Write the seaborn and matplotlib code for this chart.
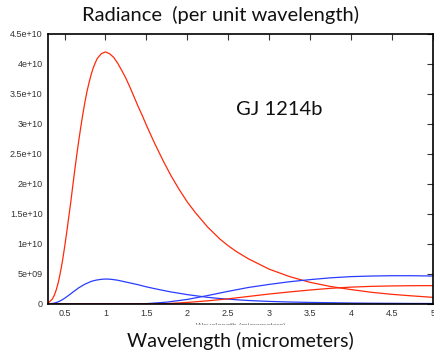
import matplotlib
matplotlib.use('Agg')
import matplotlib.pyplot as plt
import numpy as np
import pandas as pd
import seaborn as sns
from matplotlib.patches import Rectangle


# wavelength grid (micrometers) and radiance (units of 1e9)
star_wl = [0.3, 0.35, 0.375, 0.4, 0.425, 0.45, 0.475, 0.5, 0.525, 0.55,
           0.575, 0.6, 0.625, 0.65, 0.675, 0.7, 0.725, 0.75, 0.775, 0.8,
           0.825, 0.85, 0.875, 0.9, 0.95, 1.0, 1.05, 1.1, 1.15, 1.2, 1.25,
           1.3, 1.35, 1.4, 1.45, 1.5, 1.6, 1.7, 1.8, 1.9, 2.0, 2.1, 2.25,
           2.4, 2.5, 2.6, 2.75, 3.0, 3.25, 3.5, 3.75, 4.0, 4.25, 4.5, 4.75,
           5.0]
star_red = [0.16, 0.8, 1.44, 2.4, 3.66, 5.3, 7.17, 9.4, 11.76, 14.3, 16.84,
            19.6, 22.29, 24.9, 27.32, 29.6, 31.72, 33.7, 35.44, 36.9, 38.2,
            39.3, 40.16, 40.9, 41.7, 42.0, 41.7, 41.1, 40.1, 38.9, 37.6,
            36.1, 34.5, 32.9, 31.4, 29.8, 26.8, 24.0, 21.4, 19.1, 17.0, 15.2,
            12.8, 10.8, 9.7, 8.73, 7.5, 5.8, 4.56, 3.6, 2.91, 2.4, 1.94, 1.6,
            1.34, 1.1]
star_blue = [0.02, 0.08, 0.14, 0.24, 0.37, 0.53, 0.72, 0.94, 1.18, 1.43,
             1.68, 1.95, 2.2, 2.45, 2.7, 2.9, 3.1, 3.3, 3.45, 3.6, 3.75,
             3.85, 3.93, 4.0, 4.1, 4.15, 4.13, 4.05, 3.95, 3.8, 3.65, 3.5,
             3.35, 3.2, 3.02, 2.85, 2.55, 2.27, 2.0, 1.78, 1.55, 1.37, 1.1,
             0.9, 0.8, 0.7, 0.57, 0.42, 0.32, 0.25, 0.2, 0.15, 0.12, 0.1,
             0.08, 0.07]

planet_wl = [0.3, 1.0, 1.25, 1.5, 1.75, 2.0, 2.25, 2.5, 2.75, 3.0, 3.25,
             3.5, 3.75, 4.0, 4.25, 4.5, 4.75, 5.0]
planet_blue = [0.0, 0.0, 0.0, 0.05, 0.3, 0.75, 1.4, 2.1, 2.75, 3.25, 3.7,
               4.05, 4.35, 4.55, 4.65, 4.7, 4.7, 4.65]
planet_red = [0.0, 0.0, 0.0, 0.0, 0.05, 0.25, 0.52, 0.85, 1.25, 1.65, 2.0,
              2.32, 2.6, 2.8, 2.93, 3.0, 3.04, 3.05]

xticks = [0.5, 1, 1.5, 2, 2.5, 3, 3.5, 4, 4.5, 5]
yticks = [0, 5e9, 1e10, 1.5e10, 2e10, 2.5e10, 3e10, 3.5e10, 4e10, 4.5e10]
ytick_labels = ['0', '5e+09', '1e+10', '1.5e+10', '2e+10', '2.5e+10',
                '3e+10', '3.5e+10', '4e+10', '4.5e+10']

RED = '#ff2a0a'
BLUE = '#2a3cff'

sns.set_style('white')
plt.rcParams['font.family'] = ['Liberation Sans', 'DejaVu Sans']

fig = plt.figure(figsize=(4.34, 3.53), dpi=100)
ax = fig.add_axes([0.111, 0.139, 0.886, 0.765])

curves = [
    (star_wl, star_red, RED),
    (star_wl, star_blue, BLUE),
    (planet_wl, planet_blue, BLUE),
    (planet_wl, planet_red, RED),
]
for wl, val, col in curves:
    df = pd.DataFrame({'wl': wl, 'rad': np.array(val) * 1e9})
    sns.lineplot(data=df, x='wl', y='rad', color=col, linewidth=0.9,
                 ax=ax, sort=False)

ax.set_xlim(0.3, 5)
ax.set_ylim(0, 4.5e10)
ax.set_xticks(xticks)
ax.set_xticklabels([f'{t:g}' for t in xticks])
ax.set_yticks(yticks)
ax.set_yticklabels(ytick_labels)
ax.set_xlabel('')
ax.set_ylabel('')
ax.tick_params(direction='in', length=4, width=0.8, labelsize=6.5,
               labelcolor='#333333', top=True, right=True, pad=4,
               color='#333333')
for s in ax.spines.values():
    s.set_linewidth(1.2)
    s.set_color('black')

ax.text(0.488, 0.70, 'GJ 1214b', transform=ax.transAxes, fontsize=14.5,
        family=['Lato', 'DejaVu Sans'], color='#111111')

# faint, clipped label from the original plot
fig.text(0.555, 1 - 326 / 353, 'Wavelength (micrometers)', fontsize=5.5,
         color='#555555', ha='center', va='center', zorder=1)
fig.patches.append(Rectangle((0, 0), 1, 1 - 325 / 353,
                             transform=fig.transFigure, color='white',
                             zorder=2))

fig.text(0.507, 1 - 15 / 353, 'Radiance  (per unit wavelength)',
         fontsize=14.5, family=['Lato', 'DejaVu Sans'], ha='center',
         va='center', color='#111111', zorder=3)
fig.text(0.553, 1 - 341 / 353, 'Wavelength (micrometers)',
         fontsize=14, family=['Lato', 'DejaVu Sans'], ha='center',
         va='center', color='#111111', zorder=3)

fig.savefig('out.png', dpi=100)
